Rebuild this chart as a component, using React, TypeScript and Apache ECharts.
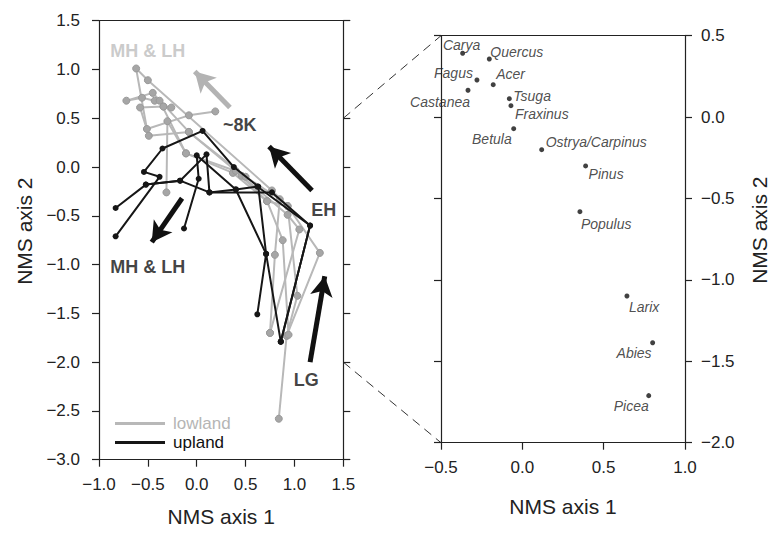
import React, { useEffect, useRef } from "react";
import * as echarts from "echarts";

// ---------- Left panel: site trajectories (NMS axis 1, NMS axis 2) ----------
const lowland1 = [[0.84, -2.58], [0.92, -1.73], [1.26, -0.88], [0.93, -0.40], [0.77, -0.24], [-0.50, 0.89], [-0.62, 1.01], [-0.51, 0.39], [-0.08, 0.53], [0.19, 0.57]];
const lowland2 = [[0.75, -1.70], [1.05, -0.64], [0.93, -0.49], [0.46, -0.09], [-0.08, 0.36], [-0.45, 0.76], [-0.72, 0.68], [-0.56, 0.71], [-0.43, 0.68]];
const lowland3 = [[0.92, -1.73], [1.03, -1.32], [0.93, -0.40], [0.72, -0.35], [0.37, -0.06], [-0.11, 0.14], [-0.38, 0.68], [-0.34, 0.62], [-0.26, 0.61]];
const lowland4 = [[0.94, -1.72], [0.88, -0.75], [0.72, -0.35], [0.40, -0.04], [-0.11, 0.14], [-0.30, 0.47], [-0.31, -0.26]];
const lowland5 = [[0.75, -1.70], [0.80, -0.90], [0.85, -0.33], [0.50, -0.10], [-0.08, 0.36], [-0.49, 0.32], [-0.58, 0.61], [-0.34, 0.62]];

const upland1 = [[0.86, -1.79], [1.16, -0.60], [0.77, -0.26], [0.13, -0.26], [0.10, 0.13], [-0.17, -0.14], [-0.52, -0.18], [-0.83, -0.42]];
const upland2 = [[0.62, -1.51], [0.71, -0.89], [0.63, -0.20], [0.38, 0.00], [0.06, 0.37], [-0.35, 0.19], [-0.54, -0.05], [-0.38, -0.10], [-0.83, -0.71]];
const upland3 = [[0.86, -1.79], [0.71, -0.89], [0.40, -0.23], [0.00, 0.12], [0.02, -0.12], [-0.13, -0.63]];
const upland4 = [[0.86, -1.79], [1.16, -0.60], [0.62, -0.20], [0.40, -0.23], [0.13, -0.26], [-0.17, -0.14], [-0.52, -0.18]];

const lowlandSites = [lowland1, lowland2, lowland3, lowland4, lowland5];
const uplandSites = [upland1, upland2, upland3, upland4];

// Period annotations (text, position in data units)
const periodNames = ["MH & LH", "~8K", "EH", "MH & LH", "LG"];
const periodX = [-0.50, 0.44, 1.30, -0.50, 1.12];
const periodY = [1.19, 0.43, -0.44, -1.02, -2.18];
const periodGray = [true, false, false, false, false];

// Arrows: from -> to (data units)
const arrowFrom = [[0.34, 0.61], [1.18, -0.24], [-0.15, -0.32], [1.16, -2.0]];
const arrowTo = [[-0.02, 0.98], [0.74, 0.21], [-0.46, -0.77], [1.31, -1.12]];
const arrowGray = [true, false, false, false];

// ---------- Right panel: species scores ----------
const speciesNames = ["Carya", "Quercus", "Fagus", "Acer", "Castanea", "Tsuga", "Fraxinus", "Betula", "Ostrya/Carpinus", "Pinus", "Populus", "Larix", "Abies", "Picea"];
const speciesX = [-0.367, -0.203, -0.279, -0.179, -0.334, -0.080, -0.070, -0.053, 0.119, 0.389, 0.354, 0.643, 0.801, 0.777];
const speciesY = [0.392, 0.357, 0.228, 0.199, 0.165, 0.113, 0.070, -0.071, -0.200, -0.300, -0.581, -1.099, -1.386, -1.711];

// label placement (style only)
const labelAlign = ["center", "left", "right", "left", "right", "left", "left", "right", "left", "left", "left", "left", "right", "right"];
const labelOffset = [[-1, -8], [1, -7], [-4, -7], [3, -11], [2, 12], [4, -3], [4, 8], [-2, 10], [4, -8], [3, 8], [1, 12], [2, 11], [-1, 10], [0, 10]];

const FONT = "'Liberation Sans', Arial, Helvetica, sans-serif";
const GRAY_LINE = "#b8b8b8";
const GRAY_DOT = "#a6a6a6";
const BLACK = "#161616";
const fmt = (v: number) => (v < 0 ? "\u2212" : "") + Math.abs(v).toFixed(1);

export default function App() {
  const ref = useRef<HTMLDivElement>(null);

  useEffect(() => {
    document.body.style.margin = "0";
    if (!ref.current) return;
    const chart = echarts.init(ref.current, undefined, { renderer: "svg" });

    const axisLine = { show: true, onZero: false, lineStyle: { color: "#222", width: 1.2 } };
    const tick = { show: true, inside: false, length: 7, lineStyle: { color: "#222", width: 1.2 } };
    const lbl = { show: true, fontSize: 17, color: "#222", fontFamily: FONT, formatter: fmt };
    const nameStyle = { fontSize: 21, color: "#222", fontFamily: FONT };
    const yNameStyle = { ...nameStyle, padding: [0, 0, 0, 18] };

    const series: any[] = [];
    lowlandSites.forEach((d) => {
      series.push({
        type: "line",
        name: "lowland",
        xAxisIndex: 0,
        yAxisIndex: 0,
        data: d,
        symbol: "circle",
        symbolSize: 7,
        showSymbol: true,
        itemStyle: { color: GRAY_DOT, borderColor: "#999", borderWidth: 1 },
        lineStyle: { color: GRAY_LINE, width: 2 },
        z: 2,
      });
    });
    uplandSites.forEach((d) => {
      series.push({
        type: "line",
        name: "upland",
        xAxisIndex: 0,
        yAxisIndex: 0,
        data: d,
        symbol: "circle",
        symbolSize: 6,
        showSymbol: true,
        itemStyle: { color: BLACK },
        lineStyle: { color: BLACK, width: 2 },
        z: 3,
      });
    });

    series.push({
      type: "scatter",
      name: "periods",
      xAxisIndex: 0,
      yAxisIndex: 0,
      symbolSize: 0,
      z: 5,
      data: periodNames.map((n, i) => ({
        name: n,
        value: [periodX[i], periodY[i]],
        label: {
          show: true,
          position: "inside",
          formatter: n,
          fontSize: 18,
          fontWeight: "bold",
          fontFamily: FONT,
          color: periodGray[i] ? "#bdbdbd" : "#111",
        },
      })),
      markLine: {
        silent: true,
        animation: false,
        symbol: ["none", "arrow"],
        symbolSize: [17, 20],
        label: { show: false },
        data: arrowFrom.map((f, i) => [
          {
            coord: f,
            lineStyle: { color: arrowGray[i] ? "#b3b3b3" : "#111", width: 5, type: "solid" },
            itemStyle: { color: arrowGray[i] ? "#b3b3b3" : "#111" },
          },
          { coord: arrowTo[i] },
        ]),
      },
    });

    series.push({
      type: "scatter",
      name: "species",
      xAxisIndex: 2,
      yAxisIndex: 2,
      symbolSize: 5,
      itemStyle: { color: "#111" },
      data: speciesNames.map((n, i) => ({
        name: n,
        value: [speciesX[i], speciesY[i]],
        label: {
          show: true,
          position: "inside",
          align: labelAlign[i],
          verticalAlign: "middle",
          offset: labelOffset[i],
          formatter: n,
          fontSize: 14,
          fontStyle: "italic",
          fontFamily: FONT,
          color: "#222",
        },
      })),
    });

    chart.setOption({
      animation: false,
      backgroundColor: "#fff",
      grid: [
        { left: 99, top: 20.7, width: 244.3, height: 439 },
        { left: 441, top: 35.7, width: 244, height: 407 },
      ],
      xAxis: [
        {
          gridIndex: 0, type: "value", position: "bottom", min: -1, max: 1.5, interval: 0.5,
          axisLine, axisTick: tick, axisLabel: { ...lbl, margin: 16 }, splitLine: { show: false },
          name: "NMS axis 1", nameLocation: "middle", nameGap: 46, nameTextStyle: nameStyle,
        },
        {
          gridIndex: 0, type: "value", position: "top", min: -1, max: 1.5, interval: 0.5,
          axisLine, axisTick: { show: false }, axisLabel: { show: false }, splitLine: { show: false },
        },
        {
          gridIndex: 1, type: "value", position: "bottom", min: -0.5, max: 1, interval: 0.5,
          axisLine, axisTick: tick, axisLabel: { ...lbl, margin: 16 }, splitLine: { show: false },
          name: "NMS axis 1", nameLocation: "middle", nameGap: 53, nameTextStyle: nameStyle,
        },
        {
          gridIndex: 1, type: "value", position: "top", min: -0.5, max: 1, interval: 0.5,
          axisLine, axisTick: { show: false }, axisLabel: { show: false }, splitLine: { show: false },
        },
      ],
      yAxis: [
        {
          gridIndex: 0, type: "value", position: "left", min: -3, max: 1.5, interval: 0.5,
          axisLine, axisTick: tick, axisLabel: { ...lbl, margin: 19 }, splitLine: { show: false },
          name: "NMS axis 2", nameLocation: "middle", nameGap: 64, nameTextStyle: yNameStyle,
        },
        {
          gridIndex: 0, type: "value", position: "right", min: -3, max: 1.5, interval: 0.5,
          axisLine, axisTick: tick, axisLabel: { show: false }, splitLine: { show: false },
        },
        {
          gridIndex: 1, type: "value", position: "left", min: -2, max: 0.5, interval: 0.5,
          axisLine, axisTick: tick, axisLabel: { show: false }, splitLine: { show: false },
        },
        {
          gridIndex: 1, type: "value", position: "right", min: -2, max: 0.5, interval: 0.5,
          axisLine, axisTick: tick, axisLabel: { ...lbl, margin: 16, align: "left" }, splitLine: { show: false },
          name: "NMS axis 2", nameLocation: "middle", nameGap: 64, nameRotate: 90, nameTextStyle: yNameStyle,
        },
      ],
      legend: {
        show: true,
        orient: "vertical",
        left: 115,
        top: 415,
        padding: 0,
        icon: "rect",
        itemWidth: 50,
        itemHeight: 3,
        itemGap: 2,
        selectedMode: false,
        textStyle: { fontSize: 17, fontFamily: FONT, padding: [0, 0, 0, 3] },
        data: [
          { name: "lowland", itemStyle: { color: GRAY_LINE, borderWidth: 0 }, textStyle: { color: "#b5b5b5" } },
          { name: "upland", itemStyle: { color: BLACK, borderWidth: 0 }, textStyle: { color: "#111" } },
        ],
      },
      series,
    });

    // dashed connectors between the two panels
    const a1 = chart.convertToPixel({ xAxisIndex: 0, yAxisIndex: 0 }, [1.5, 0.5]) as number[];
    const b1 = chart.convertToPixel({ xAxisIndex: 2, yAxisIndex: 2 }, [-0.5, 0.5]) as number[];
    const a2 = chart.convertToPixel({ xAxisIndex: 0, yAxisIndex: 0 }, [1.5, -2.0]) as number[];
    const b2 = chart.convertToPixel({ xAxisIndex: 2, yAxisIndex: 2 }, [-0.5, -2.0]) as number[];
    const dash = { stroke: "#333", lineWidth: 1, lineDash: [9, 6] };
    chart.setOption({
      graphic: [
        { type: "line", shape: { x1: a1[0], y1: a1[1], x2: b1[0], y2: b1[1] }, style: dash, silent: true },
        { type: "line", shape: { x1: a2[0], y1: a2[1], x2: b2[0], y2: b2[1] }, style: dash, silent: true },
      ],
    });

    return () => chart.dispose();
  }, []);

  return <div ref={ref} style={{ width: 776, height: 533 }} />;
}
